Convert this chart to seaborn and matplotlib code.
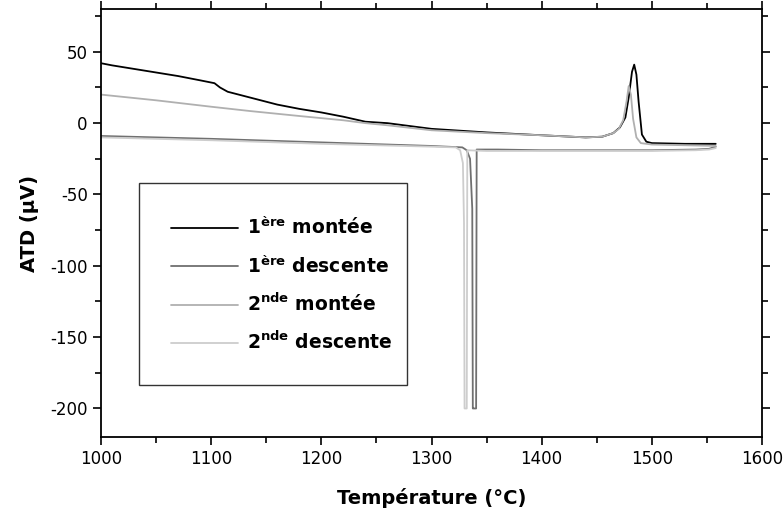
import matplotlib
matplotlib.use("Agg")
import matplotlib.pyplot as plt
import seaborn as sns
import numpy as np
import pandas as pd
from matplotlib.ticker import MultipleLocator

# 1ere montee (black)
t_m1 = [1000, 1010, 1030, 1050, 1070, 1090, 1103, 1108, 1115, 1135, 1160, 1180, 1200, 1220, 1240,
        1260, 1300, 1350, 1400, 1440, 1455, 1465, 1471, 1476, 1479, 1482, 1484, 1486, 1488,
        1491, 1495, 1500, 1530, 1558]
v_m1 = [42, 40.5, 38, 35.5, 33, 30, 28, 25, 22, 18, 13, 10, 7.5, 4.5, 1,
        0, -4, -6.5, -8.5, -10, -9.5, -7, -3, 4, 18, 36, 41, 34, 15,
        -8, -13, -14, -14.5, -14.5]

# 1ere descente (dark grey)
t_d1 = [1000, 1100, 1200, 1300, 1328, 1332, 1335, 1337, 1337.5, 1338, 1340.5, 1341,
        1360, 1400, 1450, 1500, 1540, 1552, 1558]
v_d1 = [-9, -11, -13.5, -16, -17, -19, -25, -60, -200, -200, -200, -18.5,
        -18.5, -19, -19, -19, -18.5, -18, -16.5]

# 2nde montee (light grey)
t_m2 = [1000, 1050, 1100, 1135, 1180, 1220, 1240, 1260, 1300, 1350, 1400, 1440, 1455,
        1465, 1470, 1474, 1477, 1479, 1481, 1483, 1486, 1490, 1500, 1530, 1558]
v_m2 = [20, 16, 11.5, 8.5, 5, 2, 0, -1.5, -5, -7, -8.5, -10, -9.5,
        -7, -4, 2, 15, 26, 20, 3, -10, -14, -15, -15.5, -16]

# 2nde descente (lighter grey)
t_d2 = [1000, 1100, 1200, 1300, 1322, 1326, 1328.5, 1329.5, 1330, 1332, 1332.5,
        1350, 1400, 1450, 1500, 1540, 1552, 1558]
v_d2 = [-10, -12, -14.5, -16.5, -17, -19, -28, -70, -200, -200, -19,
        -19.5, -19.5, -19.5, -19.5, -19, -18.5, -17.5]

labels = [r"1$^{\bf ère}$ montée", r"1$^{\bf ère}$ descente",
          r"2$^{\bf nde}$ montée", r"2$^{\bf nde}$ descente"]
colors = ["#000000", "#707070", "#b0b0b0", "#cdcdcd"]

sns.set_style("ticks")
plt.rcParams["font.family"] = ["DejaVu Sans"]
plt.rcParams["axes.unicode_minus"] = False
plt.rcParams["text.color"] = "black"
plt.rcParams["axes.labelcolor"] = "black"

fig = plt.figure(figsize=(7.84, 5.18), dpi=100)
ax = fig.add_axes([101 / 784, 1 - 437 / 518, 661 / 784, 428 / 518])

for t, v, lab, c in zip([t_m1, t_d1, t_m2, t_d2], [v_m1, v_d1, v_m2, v_d2], labels, colors):
    df = pd.DataFrame({"T": t, "V": v})
    sns.lineplot(data=df, x="T", y="V", ax=ax, color=c, lw=1.3, label=lab,
                 sort=False, estimator=None)

ax.set_xlim(1000, 1600)
ax.set_ylim(-220, 80)
ax.xaxis.set_major_locator(MultipleLocator(100))
ax.xaxis.set_minor_locator(MultipleLocator(50))
ax.yaxis.set_major_locator(MultipleLocator(50))
ax.yaxis.set_minor_locator(MultipleLocator(25))
ax.tick_params(which="both", direction="out", top=True, right=True, width=1.2,
               labelsize=12, colors="black")
ax.tick_params(which="major", length=6)
ax.tick_params(which="minor", length=4)
for s in ax.spines.values():
    s.set_linewidth(1.3)
    s.set_color("black")

ax.set_xlabel("Température (°C)", fontsize=14, fontweight="bold", labelpad=14)
ax.set_ylabel("ATD (µV)", fontsize=14, fontweight="bold", labelpad=8)

leg = ax.legend(loc="lower left", bbox_to_anchor=(0.057, 0.121, 0.406, 0.468), mode="expand",
                frameon=True, fancybox=False, edgecolor="black", fontsize=13.5,
                handlelength=3.6, labelspacing=0.85, borderpad=1.7, handletextpad=0.5,
                borderaxespad=0)
leg.get_frame().set_linewidth(1.0)
for txt in leg.get_texts():
    txt.set_fontweight("bold")
    txt.set_color("black")

fig.savefig("out.png", dpi=100)
